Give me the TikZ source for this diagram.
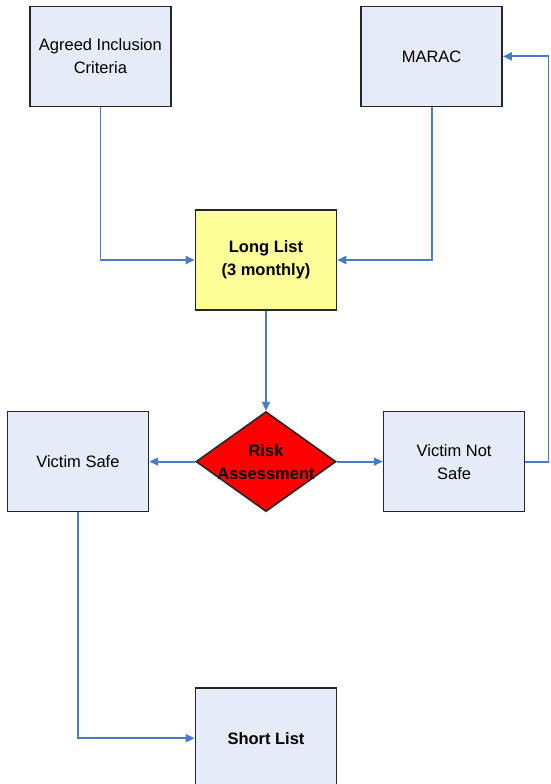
\documentclass[tikz,border=0pt]{standalone}
\usepackage{fontspec}
\setmainfont{Liberation Sans}
\usepackage{tikz}
\usetikzlibrary{positioning,shapes.geometric,arrows.meta}

\definecolor{boxfill}{HTML}{E6ECF7}
\definecolor{listfill}{HTML}{FFFF99}
\definecolor{linkblue}{HTML}{4A7CC6}

\begin{document}
\begin{tikzpicture}[x=1pt, y=1pt,
  every node/.style={font=\fontsize{16.5}{23}\selectfont},
  box/.style={draw=black!85, line width=1.6pt, fill=boxfill, minimum width=141pt, minimum height=100pt, align=center, inner sep=2pt},
  risk/.style={draw=black!85, line width=1.6pt, fill=red, diamond, minimum width=140pt, minimum height=100pt, inner sep=0pt},
  link/.style={draw=linkblue, line width=1.8pt, -{Triangle[length=9pt, width=8pt]}}]

\useasboundingbox (0,0) rectangle (550,-784);

% Main node
\node[box, fill=listfill, font=\fontsize{16.5}{23}\selectfont\bfseries] (longlist) at (266,-260) {Long List\\(3 monthly)};

% Sources
\node[box] (agreed) [above left=102pt and 23pt of longlist] {Agreed Inclusion\\Criteria};
\node[box] (marac) [above right=102pt and 23pt of longlist] {MARAC};

% Decision
\node[risk] (assess) [below=100pt of longlist] {};
\node[font=\fontsize{16.5}{23}\selectfont\bfseries, align=center] (assesstext) at (assess) {Risk\\Assessment};
\node[box] (safe) [left=46pt of assess] {Victim Safe};
\node[box] (notsafe) [right=46pt of assess] {Victim Not\\Safe};

% Result
\node[box, font=\fontsize{16.5}{23}\selectfont\bfseries] (short) [below=175pt of assess] {Short List};

% Connecting lines
\draw[link] (agreed.south) |- (longlist.west);
\draw[link] (marac.south) |- (longlist.east);
\draw[link] (longlist) -- (assess);
\draw[link] (assess) -- (safe);
\draw[link] (assess) -- (notsafe);
\draw[link] (notsafe.east) -- ++(23,0) |- (marac.east);
\draw[link] (safe.south) |- (short.west);

\end{tikzpicture}
\end{document}
